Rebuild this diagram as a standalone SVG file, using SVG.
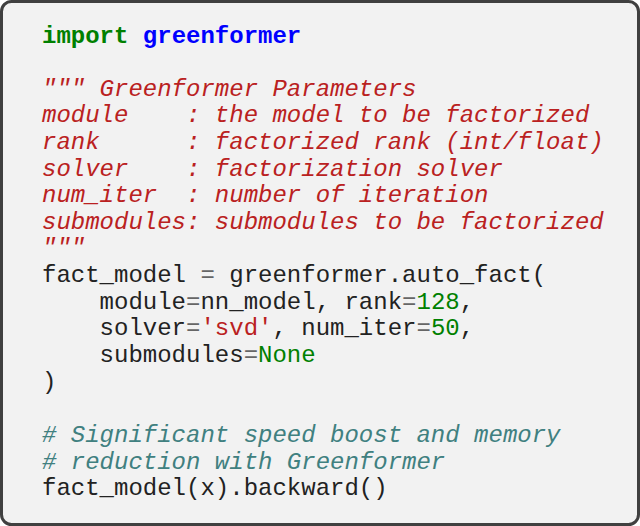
<svg xmlns="http://www.w3.org/2000/svg" width="640" height="526" viewBox="0 0 640 526">
<style>
text{font-family:"Liberation Mono","Courier New",monospace;font-size:24px;white-space:pre;fill:#222}
.kw{fill:#008000;font-weight:bold}
.mod{fill:#0000ff;font-weight:bold}
.doc{fill:#ba2121;font-style:italic}
.str{fill:#ba2121}
.num{fill:#008000}
.cm{fill:#408080;font-style:italic}
.op{fill:#666}
</style>
<rect x="1.5" y="1.5" width="637" height="523" rx="10" fill="#f2f2f2" stroke="#404040" stroke-width="3"/>
<g id="code" xml:space="preserve">
<text x="42" y="43"><tspan class="kw">import</tspan> <tspan class="mod">greenformer</tspan></text>
<text x="42" y="96" class="doc">""" Greenformer Parameters</text>
<text x="42" y="122" class="doc">module    : the model to be factorized</text>
<text x="42" y="149" class="doc">rank      : factorized rank (int/float)</text>
<text x="42" y="176" class="doc">solver    : factorization solver</text>
<text x="42" y="202" class="doc">num_iter  : number of iteration</text>
<text x="42" y="229" class="doc">submodules: submodules to be factorized</text>
<text x="42" y="255" class="doc">"""</text>
<text x="42" y="282">fact_model <tspan class="op">=</tspan> greenformer.auto_fact(</text>
<text x="42" y="309">    module<tspan class="op">=</tspan>nn_model, rank<tspan class="op">=</tspan><tspan class="num">128</tspan>,</text>
<text x="42" y="335">    solver<tspan class="op">=</tspan><tspan class="str">'svd'</tspan>, num_iter<tspan class="op">=</tspan><tspan class="num">50</tspan>,</text>
<text x="42" y="362">    submodules<tspan class="op">=</tspan><tspan class="num">None</tspan></text>
<text x="42" y="389">)</text>
<text x="42" y="442" class="cm"># Significant speed boost and memory</text>
<text x="42" y="469" class="cm"># reduction with Greenformer</text>
<text x="42" y="495">fact_model(x).backward()</text>
</g>
</svg>
